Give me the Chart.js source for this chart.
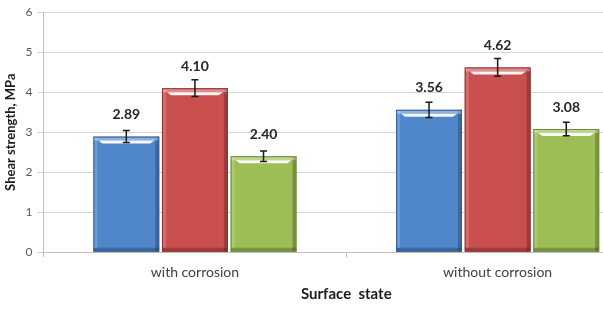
<!DOCTYPE html>
<html>
<head>
<meta charset="utf-8">
<script src="https://cdn.jsdelivr.net/npm/chart.js@4/dist/chart.umd.min.js"></script>
<style>
  html, body { margin: 0; padding: 0; background: #fff; overflow: hidden; }
  #wrap { width: 652px; height: 330px; position: relative; }
</style>
</head>
<body>
<div id="wrap"><canvas id="bar-chart"></canvas></div>
<script>
// categories and values
const categories = ['with corrosion', 'without corrosion'];
const seriesA = [2.89, 3.56];
const seriesB = [4.10, 4.62];
const seriesC = [2.40, 3.08];
// error bar half-heights (estimated)
const errA = [0.15, 0.19];
const errB = [0.21, 0.22];
const errC = [0.13, 0.17];
const yTicks = [0, 1, 2, 3, 4, 5, 6];

const colors = ['#5086CA', '#C9504F', '#9DBD55'];
const edgeColors = ['#2F5C96', '#8E2E2C', '#6C8A33'];

// bevel look: light stripe near top, darker edges
const bevelPlugin = {
    id: 'bevel',
    afterDatasetsDraw(chart){
        const ctx = chart.ctx;
        chart.data.datasets.forEach((ds, di) => {
            const meta = chart.getDatasetMeta(di);
            meta.data.forEach(bar => {
                const l = bar.x - bar.width/2, r = bar.x + bar.width/2;
                const t = bar.y, b = bar.base;
                ctx.save();
                // darker right + bottom edge
                ctx.fillStyle = 'rgba(0,0,0,0.22)';
                ctx.fillRect(r - 4, t, 4, b - t);
                ctx.fillRect(l, b - 4, r - l, 4);
                // lighter left edge
                ctx.fillStyle = 'rgba(255,255,255,0.18)';
                ctx.fillRect(l, t, 4, b - t - 4);
                // top highlight stripe
                ctx.fillStyle = 'rgba(255,255,255,0.35)';
                ctx.fillRect(l, t, r - l, 4);
                ctx.fillStyle = 'rgba(255,255,255,0.95)';
                ctx.beginPath();
                ctx.moveTo(l + 5, t + 4);
                ctx.lineTo(r - 5, t + 4);
                ctx.lineTo(r - 9, t + 7);
                ctx.lineTo(l + 9, t + 7);
                ctx.closePath();
                ctx.fill();
                ctx.strokeStyle = edgeColors[di];
                ctx.lineWidth = 1;
                ctx.strokeRect(l + 0.5, t + 0.5, r - l - 1, b - t - 1);
                ctx.restore();
            });
        });
    }
};

const errs = [errA, errB, errC];

const errorBarPlugin = {
    id: 'errorBars',
    afterDatasetsDraw(chart){
        const ctx = chart.ctx;
        const y = chart.scales.y;
        chart.data.datasets.forEach((ds, di) => {
            const meta = chart.getDatasetMeta(di);
            meta.data.forEach((bar, i) => {
                const v = ds.data[i], e = errs[di][i];
                const yTop = y.getPixelForValue(v + e);
                const yBot = y.getPixelForValue(v - e);
                ctx.save();
                ctx.strokeStyle = '#1a1a1a';
                ctx.lineWidth = 1.5;
                ctx.beginPath();
                ctx.moveTo(bar.x, yTop); ctx.lineTo(bar.x, yBot);
                ctx.moveTo(bar.x - 3.5, yTop); ctx.lineTo(bar.x + 3.5, yTop);
                ctx.moveTo(bar.x - 3.5, yBot); ctx.lineTo(bar.x + 3.5, yBot);
                ctx.stroke();
                // value label, placed above the bar top like excel does
                ctx.fillStyle = '#262626';
                ctx.font = 'bold 14px Lato';
                ctx.textAlign = 'center';
                ctx.textBaseline = 'middle';
                ctx.fillText(v.toFixed(2), bar.x, bar.y - 22);
                ctx.restore();
            });
        });
    }
};

const config = {
    type: 'bar',
    data: {
        labels: categories,
        datasets: [
            { label: 'A', data: seriesA, backgroundColor: colors[0] },
            { label: 'B', data: seriesB, backgroundColor: colors[1] },
            { label: 'C', data: seriesC, backgroundColor: colors[2] }
        ]
    },
    options: {
        responsive: true,
        maintainAspectRatio: false,
        animation: false,
        layout: { padding: { top: 0, right: 3, bottom: 23, left: 3 } },
        datasets: { bar: { categoryPercentage: 0.68, barPercentage: 0.96 } },
        plugins: {
            legend: { display: false },
            tooltip: { enabled: false }
        },
        scales: {
            x: {
                grid: { display: true, drawOnChartArea: false, offset: true, color: '#bfbfbf', tickLength: 5 },
                border: { color: '#bfbfbf' },
                ticks: { color: '#404040', font: { family: 'Lato', size: 14 }, padding: 7 },
                title: { display: true, text: 'Surface  state', color: '#1a1a1a',
                         font: { family: 'Lato', size: 15, weight: 'bold' }, padding: { top: -3 } }
            },
            y: {
                min: 0, max: 6,
                afterBuildTicks(axis){ axis.ticks = yTicks.map(v => ({ value: v })); },
                grid: { color: '#d4d4d4', tickLength: 6 },
                border: { color: '#bfbfbf' },
                ticks: { color: '#595959', font: { family: 'Lato', size: 12 }, padding: 5 },
                title: { display: true, text: 'Shear strength, MPa', color: '#1a1a1a',
                         font: { family: 'Lato', size: 13, weight: 'bold' }, padding: { top: 0, bottom: 2 } }
            }
        }
    },
    plugins: [bevelPlugin, errorBarPlugin]
};

let myChart = new Chart(document.querySelector('#bar-chart'), config);
</script>
</body>
</html>
